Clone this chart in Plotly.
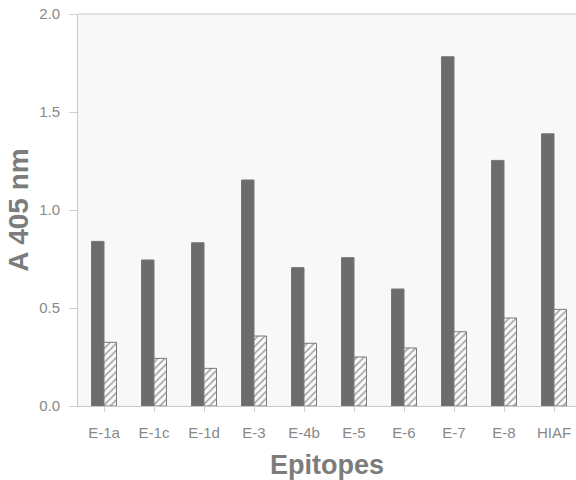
import plotly.graph_objects as go

epitopes = ["E-1a", "E-1c", "E-1d", "E-3", "E-4b", "E-5", "E-6", "E-7", "E-8", "HIAF"]
solid_values = [0.84, 0.745, 0.833, 1.153, 0.706, 0.757, 0.597, 1.782, 1.253, 1.389]
hatched_values = [0.325, 0.243, 0.192, 0.357, 0.320, 0.250, 0.296, 0.379, 0.449, 0.493]
y_ticks = [0.0, 0.5, 1.0, 1.5, 2.0]
y_tick_labels = ["0.0", "0.5", "1.0", "1.5", "2.0"]

fig = go.Figure()
fig.add_trace(go.Bar(
    x=epitopes, y=solid_values,
    marker=dict(color="#6c6c6c", line=dict(color="#777777", width=1)),
    offset=-0.25, width=0.25,
))
fig.add_trace(go.Bar(
    x=epitopes, y=hatched_values,
    marker=dict(
        color="#fafafa",
        line=dict(color="#7a7a7a", width=1),
        pattern=dict(shape="/", fgcolor="#444444", bgcolor="#fafafa", size=5, solidity=0.3),
    ),
    offset=0.0, width=0.25,
))

fig.update_layout(
    width=576, height=480,
    margin=dict(l=78, r=0, t=14, b=74),
    paper_bgcolor="white",
    plot_bgcolor="#f8f8f8",
    showlegend=False,
    font=dict(family="Liberation Sans, Arial, sans-serif", color="#888888"),
    xaxis=dict(
        range=[-0.52, 9.44],
        showline=True, linecolor="#c8c8c8", linewidth=1,
        ticks="outside", ticklen=5, tickcolor="#d0d0d0",
        ticklabelstandoff=8,
        tickfont=dict(size=15, color="#888888"),
        title=dict(text="<b>Epitopes</b>", font=dict(size=27, color="#7c7c7c"), standoff=16),
        showgrid=False, zeroline=False,
    ),
    yaxis=dict(
        range=[0, 2.0],
        tickvals=y_ticks, ticktext=y_tick_labels,
        showline=True, linecolor="#c8c8c8", linewidth=1, mirror=False,
        ticks="outside", ticklen=8, tickcolor="#d0d0d0",
        ticklabelstandoff=6,
        tickfont=dict(size=15, color="#888888"),
        title=dict(text="<b>A 405 nm</b>", font=dict(size=28, color="#7c7c7c"), standoff=2),
        showgrid=False, zeroline=False,
    ),
    shapes=[dict(type="line", xref="paper", yref="paper", x0=0, x1=1, y0=1, y1=1,
                 line=dict(color="#c8c8c8", width=1))],
)

fig.write_html("out.html")
